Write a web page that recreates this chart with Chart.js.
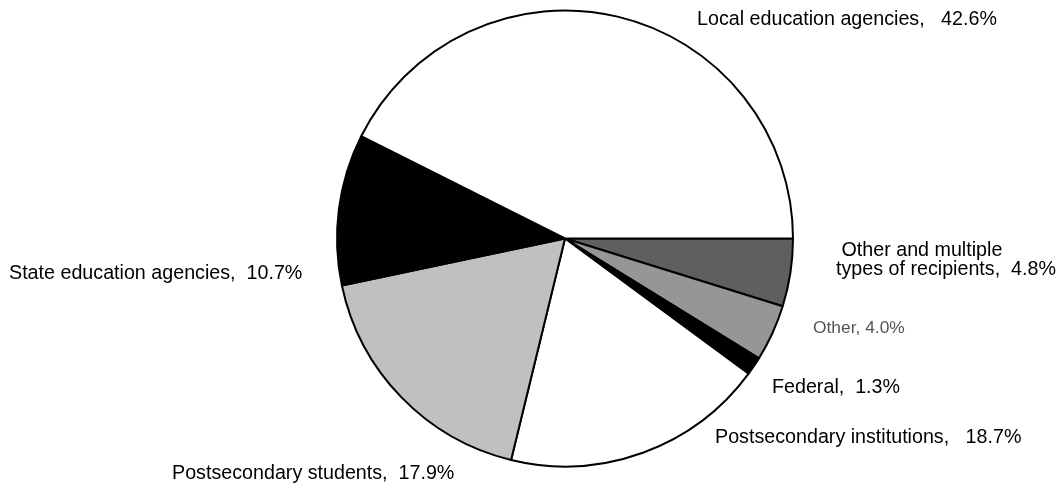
<!DOCTYPE html>
<html>
<head>
<meta charset="utf-8">
<script src="https://cdn.jsdelivr.net/npm/chart.js@4"></script>
<style>
  html, body { margin: 0; padding: 0; background: #fff; }
  #wrap { width: 1060px; height: 486px; }
</style>
</head>
<body>
<div id="wrap"><canvas id="pieChart" width="1060" height="486"></canvas></div>
<script>
// shares in percent, counter-clockwise from 3 o'clock
const categories = [
    'Local education agencies',
    'State education agencies',
    'Postsecondary students',
    'Postsecondary institutions',
    'Federal',
    'Other',
    'Other and multiple types of recipients'
];
const shares = [42.6, 10.7, 17.9, 18.7, 1.3, 4.0, 4.8];
const sliceLabels = [
    ['Local education agencies,   42.6%'],
    ['State education agencies,  10.7%'],
    ['Postsecondary students,  17.9%'],
    ['Postsecondary institutions,   18.7%'],
    ['Federal,  1.3%'],
    ['Other, 4.0%'],
    [' Other and multiple', 'types of recipients,  4.8%']
];
const sliceColors = ['#ffffff', '#000000', '#c0c0c0', '#ffffff', '#000000', '#969696', '#5f5f5f'];

// label anchor spots (left x, middle y of first line)
const labelSpots = [
    [697, 20], [9, 274], [172, 474], [715, 438], [772, 388], [813, 328], [836, 251]
];

const labelPlugin = {
    id: 'sliceText',
    afterDraw(chart) {
        const ctx = chart.ctx;
        ctx.save();
        ctx.textBaseline = 'middle';
        ctx.textAlign = 'left';
        sliceLabels.forEach((lines, i) => {
            const small = categories[i] === 'Other';
            ctx.font = (small ? '17.4px' : '19.7px') + ' "Liberation Sans", Arial, sans-serif';
            ctx.fillStyle = small ? '#555555' : '#000000';
            const [x, y] = labelSpots[i];
            lines.forEach((t, k) => ctx.fillText(t, x, y + k * 19));
        });
        ctx.restore();
    }
};

// Chart.js goes clockwise, so feed the slices reversed
const rev = a => a.slice().reverse();

new Chart(document.getElementById('pieChart').getContext('2d'), {
    type: 'pie',
    data: {
        labels: rev(categories),
        datasets: [{
            data: rev(shares),
            backgroundColor: rev(sliceColors),
            borderColor: '#000000',
            borderWidth: 2
        }]
    },
    options: {
        responsive: false,
        animation: false,
        rotation: 90,
        layout: { padding: { left: 336, right: 266, top: 9, bottom: 18 } },
        plugins: {
            legend: { display: false },
            tooltip: { enabled: false }
        }
    },
    plugins: [labelPlugin]
});
</script>
</body>
</html>
